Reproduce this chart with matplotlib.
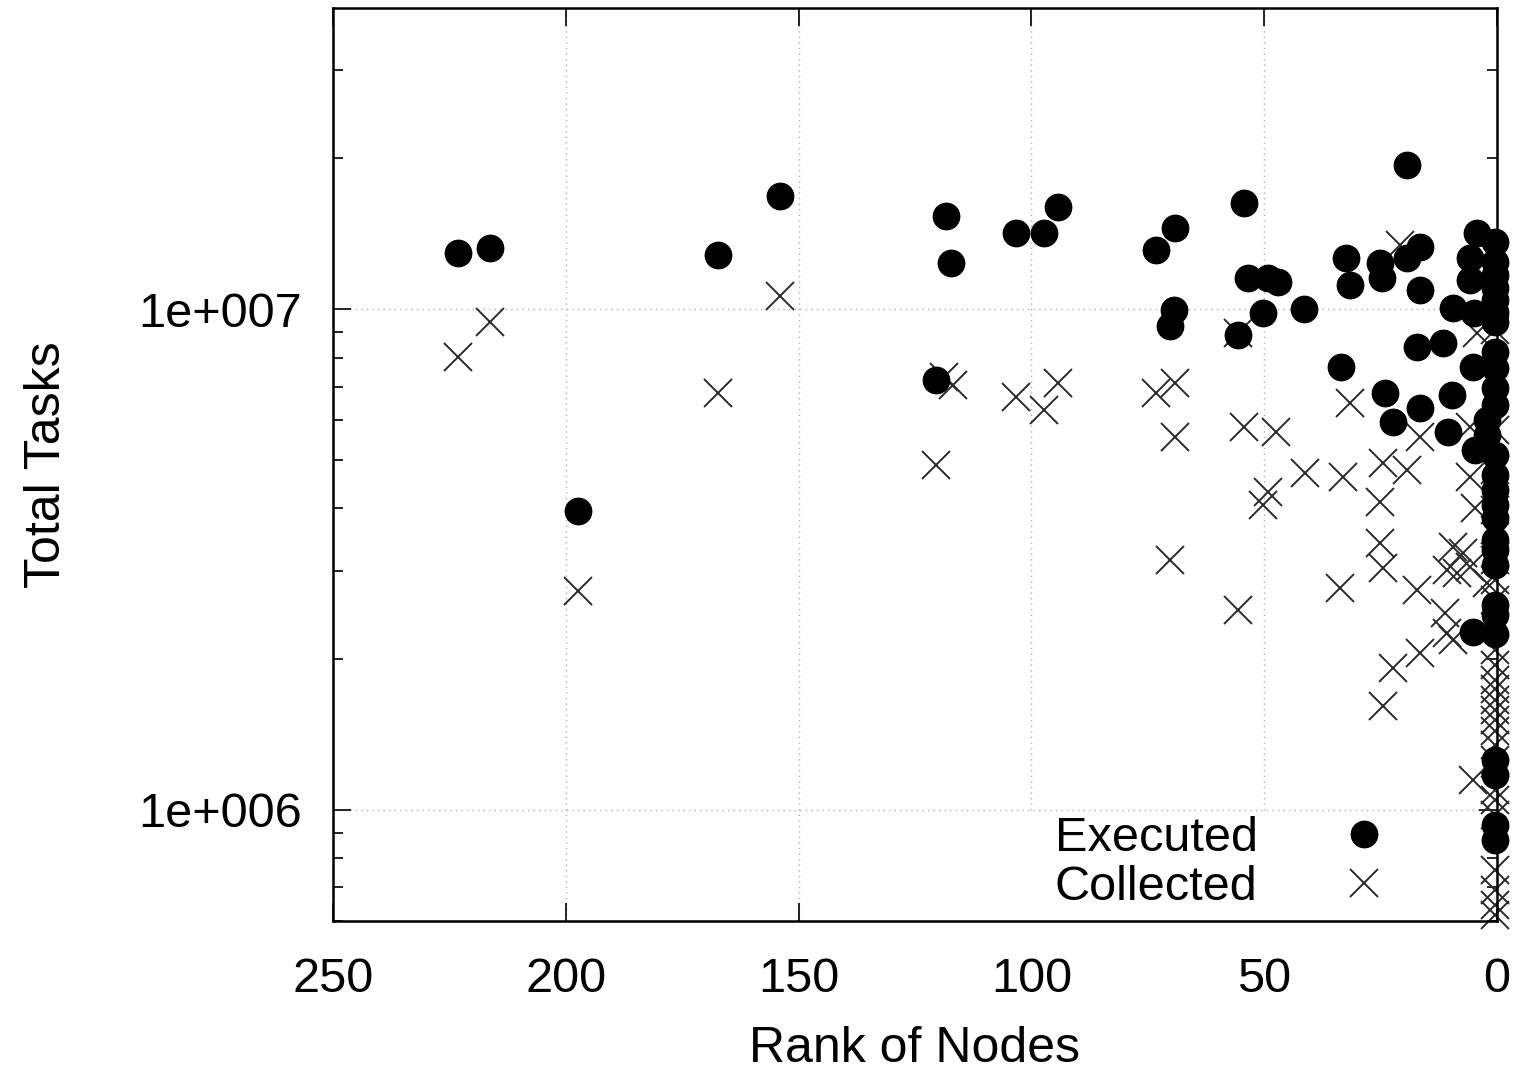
import matplotlib
matplotlib.use("Agg")
import matplotlib.pyplot as plt
from matplotlib.patches import Rectangle
from matplotlib.ticker import FixedLocator, LogLocator, NullFormatter

plt.rcParams['font.family'] = ['Liberation Sans', 'DejaVu Sans']

# ---- data ----
exec_rank = [223.2, 216.3, 197.4, 167.3, 154.0, 120.5, 118.3, 117.3, 103.3, 97.3,
             94.3, 73.2, 70.2, 69.4, 69.2, 55.6, 54.3, 53.5, 50.3, 49.2,
             47.0, 41.5, 33.5, 32.4, 31.6, 25.1, 24.7, 24.1, 22.3, 19.3,
             19.3, 17.2, 16.5, 16.5, 16.5, 11.6, 10.5, 9.7, 9.5, 5.8,
             5.8, 5.2, 4.7, 5.2, 4.3, 5.0,
             0.5, 0.5, 0.5, 0.5, 0.5, 0.5, 0.5, 0.5, 0.5, 0.5,
             0.5, 2.1, 2.1, 0.5, 0.5, 0.5, 0.5, 0.5, 0.5, 0.5,
             0.5, 0.5, 0.5, 0.5, 0.5, 0.5, 0.5, 0.5]
exec_tasks = [1.293e7, 1.324e7, 3.95e6, 1.282e7, 1.681e7, 7.21e6, 1.533e7, 1.236e7, 1.418e7, 1.418e7,
              1.598e7, 1.312e7, 9.25e6, 9.95e6, 1.451e7, 8.87e6, 1.628e7, 1.153e7, 9.82e6, 1.153e7,
              1.132e7, 1.0e7, 7.66e6, 1.264e7, 1.117e7, 1.236e7, 1.153e7, 6.8e6, 5.95e6, 1.938e7,
              1.264e7, 8.40e6, 1.329e7, 1.091e7, 6.34e6, 8.55e6, 5.68e6, 6.73e6, 1.005e7, 1.264e7,
              1.143e7, 7.66e6, 5.23e6, 2.27e6, 1.418e7, 9.8e6,
              1.36e7, 1.241e7, 1.169e7, 1.101e7, 1.042e7, 9.86e6, 9.42e6, 8.21e6, 7.62e6, 6.96e6,
              6.43e6, 6.0e6, 5.6e6, 5.11e6, 4.66e6, 4.35e6, 4.06e6, 3.83e6, 3.46e6, 3.30e6,
              3.08e6, 2.57e6, 2.45e6, 2.24e6, 1.258e6, 1.175e6, 9.33e5, 8.71e5]

coll_rank = [223.2, 216.3, 197.4, 167.3, 154.0, 120.5, 118.8, 116.8, 103.3, 97.3,
             94.3, 73.2, 70.2, 69.2, 69.2, 55.6, 55.6, 54.3, 50.3, 49.2,
             47.5, 41.2, 33.7, 33.1, 31.6, 25.1, 25.1, 24.5, 24.5, 24.5,
             22.3, 20.8, 19.3, 17.2, 16.5, 16.5, 11.2, 10.7, 9.5, 8.6,
             7.3, 5.8, 4.7, 4.3, 5.2, 5.8, 2.1, 9.5, 10.7, 5.8,
             0.5, 0.5, 0.5, 0.5, 0.5, 0.5, 0.5, 0.5, 0.5, 0.5,
             0.5, 0.5, 0.5, 0.5, 0.5, 0.5, 0.5, 0.5, 0.5, 0.5,
             0.5, 0.5, 0.5, 0.5, 0.5]
coll_tasks = [8.02e6, 9.42e6, 2.74e6, 6.80e6, 1.062e7, 4.88e6, 7.31e6, 7.05e6, 6.67e6, 6.29e6,
              7.12e6, 6.80e6, 3.16e6, 7.12e6, 5.55e6, 8.95e6, 2.51e6, 5.81e6, 4.06e6, 4.31e6,
              5.68e6, 4.71e6, 2.77e6, 4.62e6, 6.49e6, 4.12e6, 3.41e6, 4.93e6, 3.04e6, 1.61e6,
              1.92e6, 1.34e7, 4.77e6, 2.75e6, 5.55e6, 2.06e6, 2.47e6, 2.26e6, 3.35e6, 2.97e6,
              3.26e6, 4.62e6, 4.01e6, 8.96e6, 1.148e6, 3.05e6, 2.84e6, 2.18e6, 3.01e6, 5.81e6,
              9.08e6, 5.73e6, 4.77e6, 3.97e6, 3.62e6, 3.16e6, 2.88e6, 2.63e6, 2.09e6, 1.95e6,
              1.82e6, 1.74e6, 1.66e6, 1.58e6, 1.51e6, 1.44e6, 1.35e6, 1.258e6, 1.096e6, 1.047e6,
              9.77e5, 7.59e5, 6.92e5, 6.46e5, 6.18e5]

x_ticks = [250, 200, 150, 100, 50, 0]
x_ticklabels = ["250", "200", "150", "100", "50", "0"]
y_ticks = [1e6, 1e7]
y_ticklabels = ["1e+006", "1e+007"]

series_labels = ["Executed", "Collected"]
x_title = "Rank of Nodes"
y_title = "Total Tasks"

# ---- figure ----
W, H = 1519, 1071
fig = plt.figure(figsize=(W / 100, H / 100), dpi=100)
ax = fig.add_axes([333/W, 1 - 921/H, (1497-333)/W, (921-8)/H])

ax.set_yscale('log')
ax.set_xlim(250, 0)
ax.set_ylim(6.0e5, 3.99e7)

ax.set_axisbelow(True)
ax.grid(True, which='major', linestyle=(0, (1, 3)), color='#b0b0b0', linewidth=1.0)

# white key box hiding the grid
ax.add_patch(Rectangle((0.5644, 0.0), 0.3952, 0.119, transform=ax.transAxes,
                       facecolor='white', edgecolor='none', zorder=1))

l1, = ax.plot(exec_rank, exec_tasks, linestyle='none', marker='o', markersize=19,
              color='black', zorder=3, clip_on=False)
l2, = ax.plot(coll_rank, coll_tasks, linestyle='none', marker='x', markersize=20,
              markeredgewidth=1.4, color='#2a2a2a', zorder=2, clip_on=False)

ax.xaxis.set_major_locator(FixedLocator(x_ticks))
ax.set_xticklabels(x_ticklabels)
ax.yaxis.set_major_locator(FixedLocator(y_ticks))
ax.set_yticklabels(y_ticklabels)
ax.yaxis.set_minor_locator(LogLocator(base=10, subs=range(2, 10)))
ax.yaxis.set_minor_formatter(NullFormatter())

ax.tick_params(which='both', direction='in', top=True, right=True, labelsize=35, width=1.2)
ax.tick_params(which='major', length=13)
ax.tick_params(which='minor', length=7)
ax.tick_params(axis='x', which='major', pad=26)
ax.tick_params(axis='y', which='major', pad=22)
for s in ax.spines.values():
    s.set_linewidth(1.8)

fig.text(915/W, 1 - 1062/H, x_title, fontsize=36, ha='center', va='baseline')
fig.text(60/W, 1 - 465/H, y_title, fontsize=36, ha='center', va='baseline',
         rotation=90, rotation_mode='anchor')

leg = ax.legend([l1, l2], series_labels, loc='lower right', bbox_to_anchor=(0.946, -0.0255),
                markerfirst=False, frameon=False, fontsize=35, handlelength=1.5,
                handletextpad=1.43, labelspacing=0.09, borderaxespad=0.3)

fig.savefig("out.png", dpi=100)
